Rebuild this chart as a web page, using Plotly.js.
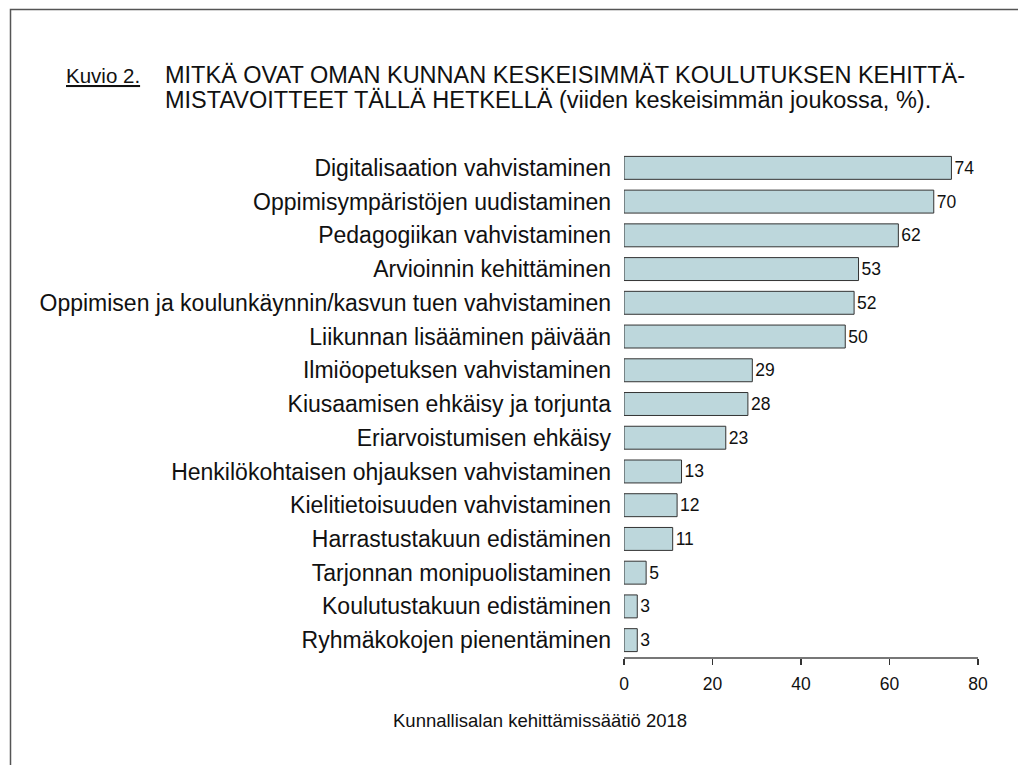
<!DOCTYPE html>
<html>
<head>
<meta charset="utf-8">
<script src="https://cdn.plot.ly/plotly-3.0.1.min.js"></script>
<style>
  html, body { margin: 0; padding: 0; background: #fff; }
  #chart { width: 1018px; height: 765px; }
</style>
</head>
<body>
<div id="chart"></div>
<script>
const categories = [
  "Digitalisaation vahvistaminen",
  "Oppimisympäristöjen uudistaminen",
  "Pedagogiikan vahvistaminen",
  "Arvioinnin kehittäminen",
  "Oppimisen ja koulunkäynnin/kasvun tuen vahvistaminen",
  "Liikunnan lisääminen päivään",
  "Ilmiöopetuksen vahvistaminen",
  "Kiusaamisen ehkäisy ja torjunta",
  "Eriarvoistumisen ehkäisy",
  "Henkilökohtaisen ohjauksen vahvistaminen",
  "Kielitietoisuuden vahvistaminen",
  "Harrastustakuun edistäminen",
  "Tarjonnan monipuolistaminen",
  "Koulutustakuun edistäminen",
  "Ryhmäkokojen pienentäminen"
];
const values = [74, 70, 62, 53, 52, 50, 29, 28, 23, 13, 12, 11, 5, 3, 3];
const xTicks = [0, 20, 40, 60, 80];

const figureLabel = "Kuvio 2.";
const titleLine1 = "MITKÄ OVAT OMAN KUNNAN KESKEISIMMÄT KOULUTUKSEN KEHITTÄ-";
const titleLine2 = "MISTAVOITTEET TÄLLÄ HETKELLÄ (viiden keskeisimmän joukossa, %).";
const sourceText = "Kunnallisalan kehittämissäätiö 2018";

const W = 1018, H = 765;
const m = { l: 624, r: 40, t: 151, b: 108 };
const pw = W - m.l - m.r, ph = H - m.t - m.b;
const px = x => (x - m.l) / pw;
const py = y => (H - m.b - y) / ph;

const FONT = "Liberation Sans, Arial, sans-serif";

const trace = {
  type: "bar",
  orientation: "h",
  y: categories,
  x: values,
  width: 0.68,
  marker: { color: "#bdd7dc", line: { color: "#333333", width: 1 } },
  text: values.map(String),
  textposition: "outside",
  cliponaxis: false,
  textfont: { family: FONT, size: 17.5, color: "#111" },
  hoverinfo: "skip"
};

const layout = {
  width: W, height: H,
  margin: m,
  paper_bgcolor: "#ffffff",
  plot_bgcolor: "#ffffff",
  showlegend: false,
  font: { family: FONT, color: "#111" },
  xaxis: {
    range: [0, 80],
    tickvals: xTicks,
    ticktext: xTicks.map(String),
    showgrid: false,
    zeroline: false,
    showline: true,
    linecolor: "#777777",
    linewidth: 2,
    ticks: "outside",
    ticklen: 6,
    tickwidth: 1.5,
    tickcolor: "#333333",
    ticklabelstandoff: 4,
    tickfont: { family: FONT, size: 17.5, color: "#111" },
    fixedrange: true
  },
  yaxis: {
    type: "category",
    range: [categories.length - 0.5, -0.5],
    showgrid: false,
    zeroline: false,
    showline: false,
    ticks: "",
    ticklabelstandoff: 12,
    tickfont: { family: FONT, size: 23, color: "#111" },
    fixedrange: true
  },
  shapes: [{
    type: "rect", xref: "paper", yref: "paper",
    x0: px(10.5), x1: px(1040), y0: py(9.5), y1: py(800),
    line: { color: "#555555", width: 1.5 },
    fillcolor: "rgba(0,0,0,0)",
    layer: "below"
  }],
  annotations: [
    {
      xref: "paper", yref: "paper", x: px(64), y: py(76),
      xanchor: "left", yanchor: "middle", showarrow: false,
      text: "<u>" + figureLabel + "</u>",
      font: { family: FONT, size: 20.5, color: "#111" }
    },
    {
      xref: "paper", yref: "paper", x: px(163), y: py(75),
      xanchor: "left", yanchor: "middle", showarrow: false, align: "left",
      text: titleLine1,
      font: { family: FONT, size: 23.5, color: "#111" }
    },
    {
      xref: "paper", yref: "paper", x: px(163), y: py(100),
      xanchor: "left", yanchor: "middle", showarrow: false, align: "left",
      text: titleLine2,
      font: { family: FONT, size: 23.5, color: "#111" }
    },
    {
      xref: "paper", yref: "paper", x: px(540), y: py(720),
      xanchor: "center", yanchor: "middle", showarrow: false,
      text: sourceText,
      font: { family: FONT, size: 18.5, color: "#111" }
    }
  ]
};

Plotly.newPlot("chart", [trace], layout, { displayModeBar: false, staticPlot: true });
</script>
</body>
</html>
